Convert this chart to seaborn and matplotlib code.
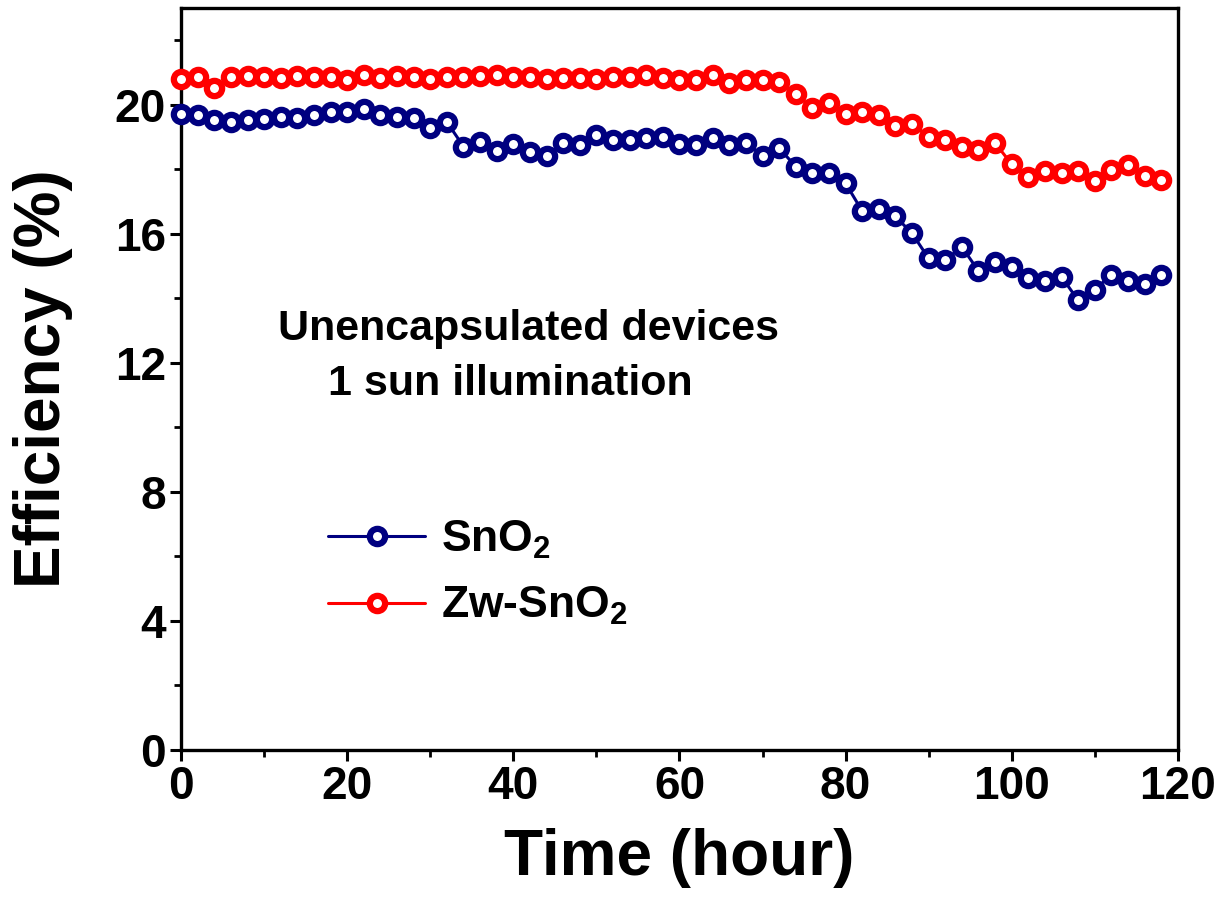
import numpy as np
import pandas as pd
import seaborn as sns
import matplotlib.pyplot as plt
from matplotlib.ticker import MultipleLocator

# Stability of unencapsulated devices under 1 sun illumination
time_h = list(range(0, 120, 2))

eff_sno2 = [19.72, 19.70, 19.54, 19.47, 19.54, 19.57, 19.62, 19.60, 19.68, 19.77,
            19.78, 19.88, 19.68, 19.62, 19.60, 19.28, 19.47, 18.71, 18.85, 18.58,
            18.79, 18.54, 18.43, 18.82, 18.75, 19.06, 18.92, 18.92, 18.97, 18.99,
            18.79, 18.75, 18.97, 18.75, 18.82, 18.43, 18.66, 18.09, 17.88, 17.88,
            17.57, 16.71, 16.77, 16.54, 16.02, 15.24, 15.19, 15.60, 14.85, 15.14,
            14.98, 14.64, 14.54, 14.67, 13.94, 14.26, 14.74, 14.54, 14.46, 14.74]

eff_zw_sno2 = [20.79, 20.86, 20.53, 20.86, 20.89, 20.86, 20.82, 20.89, 20.86, 20.86,
               20.76, 20.94, 20.82, 20.89, 20.86, 20.79, 20.86, 20.86, 20.89, 20.92,
               20.86, 20.86, 20.79, 20.82, 20.82, 20.79, 20.86, 20.86, 20.92, 20.84,
               20.76, 20.76, 20.94, 20.68, 20.76, 20.76, 20.72, 20.34, 19.90, 20.06,
               19.72, 19.78, 19.68, 19.36, 19.41, 19.02, 18.92, 18.68, 18.61, 18.82,
               18.16, 17.75, 17.96, 17.88, 17.96, 17.65, 17.99, 18.14, 17.81, 17.68]

series_labels = ["SnO$_2$", "Zw-SnO$_2$"]
series_colors = ["#000080", "#FF0000"]

x_ticks = [0, 20, 40, 60, 80, 100, 120]
y_ticks = [0, 4, 8, 12, 16, 20]

sns.set_theme(style="ticks")
plt.rcParams["font.family"] = ["Liberation Sans", "DejaVu Sans"]
plt.rcParams["font.weight"] = "bold"
plt.rcParams["text.color"] = "black"
plt.rcParams["axes.labelcolor"] = "black"
plt.rcParams["xtick.color"] = "black"
plt.rcParams["ytick.color"] = "black"
plt.rcParams["mathtext.fontset"] = "custom"
plt.rcParams["mathtext.rm"] = "Liberation Sans:bold"
plt.rcParams["mathtext.it"] = "Liberation Sans:bold"
plt.rcParams["mathtext.bf"] = "Liberation Sans:bold"

fig = plt.figure(figsize=(12.32, 9.11), dpi=100)
ax = fig.add_axes([0.147, 0.177, 0.809, 0.814])

for vals, lab, col in zip([eff_sno2, eff_zw_sno2], series_labels, series_colors):
    df = pd.DataFrame({"Time": time_h, "Efficiency": vals})
    sns.lineplot(data=df, x="Time", y="Efficiency", ax=ax, color=col,
                 linewidth=2.2, marker="o", markersize=11,
                 markerfacecolor="white", markeredgecolor=col,
                 markeredgewidth=4.5, label=lab, clip_on=False, zorder=3)

ax.set_xlim(0, 120)
ax.set_ylim(0, 23)
ax.set_xticks(x_ticks)
ax.set_yticks(y_ticks)
ax.xaxis.set_minor_locator(MultipleLocator(10))
ax.yaxis.set_minor_locator(MultipleLocator(2))

for side in ["left", "right", "top", "bottom"]:
    ax.spines[side].set_linewidth(2.4)
    ax.spines[side].set_color("black")

ax.tick_params(axis="both", which="major", direction="out", length=8,
               width=2.2, color="black", labelsize=33, labelcolor="black")
ax.tick_params(axis="both", which="minor", direction="out", length=5,
               width=2.0, color="black")
ax.tick_params(axis="y", which="major", pad=3)
ax.tick_params(axis="x", which="major", pad=3)
for lbl in ax.get_xticklabels() + ax.get_yticklabels():
    lbl.set_fontweight("bold")

ax.set_xlabel("Time (hour)", fontsize=46, fontweight="bold", labelpad=14,
              color="black")
ax.set_ylabel("Efficiency (%)", fontsize=46, fontweight="bold", labelpad=30,
              color="black")

ax.text(11.7, 13.06, "Unencapsulated devices", fontsize=31, fontweight="bold",
        ha="left", va="center", color="black")
ax.text(17.7, 11.35, "1 sun illumination", fontsize=31, fontweight="bold",
        ha="left", va="center", color="black")

leg = ax.legend(loc="center left", bbox_to_anchor=(0.147, 0.2385),
                frameon=False, fontsize=32, handlelength=2.2,
                handletextpad=0.35, labelspacing=0.55, borderpad=0,
                borderaxespad=0)
for t in leg.get_texts():
    t.set_fontweight("bold")
    t.set_color("black")

fig.savefig("out.png", dpi=100)
